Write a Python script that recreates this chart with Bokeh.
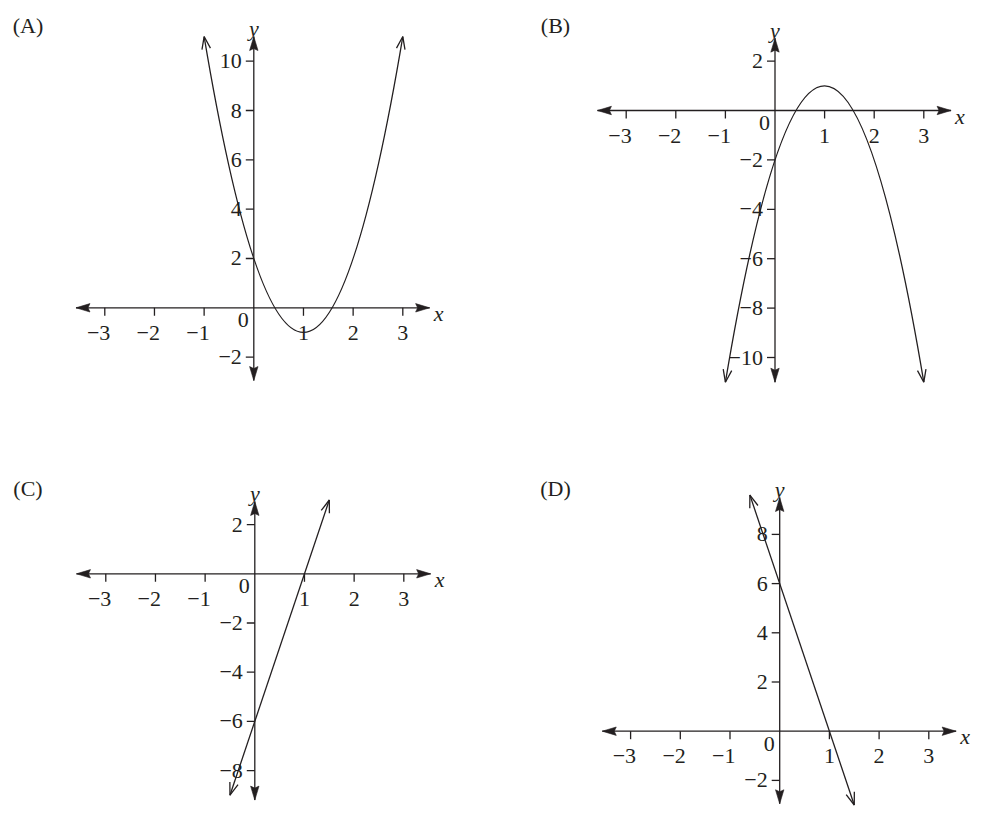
import math
from bokeh.plotting import figure
from bokeh.layouts import gridplot
from bokeh.models import Range1d, Label
from bokeh.core.properties import value
from bokeh.embed import file_html
from bokeh.resources import INLINE

# ---------------- data ----------------
panel_names = ["(A)", "(B)", "(C)", "(D)"]
x_ticks = [-3, -2, -1, 1, 2, 3]

a_y_ticks = [-2, 2, 4, 6, 8, 10]
b_y_ticks = [-10, -8, -6, -4, -2, 2]
c_y_ticks = [-8, -6, -4, -2, 2]
d_y_ticks = [-2, 2, 4, 6, 8]

# extent of the drawn axes (arrow tips)
a_x_axis, a_y_axis = [-3.58, 3.54], [-2.95, 11.0]
b_x_axis, b_y_axis = [-3.58, 3.55], [-11.0, 2.93]
c_x_axis, c_y_axis = [-3.59, 3.54], [-9.2, 2.94]
d_x_axis, d_y_axis = [-3.57, 3.55], [-2.95, 9.5]

# (A) parabola: end points and vertex
a_curve_x, a_curve_y, a_vertex = [-1, 3], [11, 11], [1, -1]
# (B) parabola: end points and vertex
b_curve_x, b_curve_y, b_vertex = [-1, 3], [-11, -11], [1, 1]
# (C) straight line end points
c_line_x, c_line_y = [-0.5, 1.5], [-9, 3]
# (D) straight line end points
d_line_x, d_line_y = [-0.6, 1.5], [9.6, -3]

# ---------------- style / layout ----------------
INK = "#231f20"
FONT = "Liberation Serif"
FS = "22px"
LW = 1.3
W = 490
H_TOP, H_BOT = 462, 350
PAGE_X, PAGE_Y = 0, 0   # where the grid lands in the screenshot


def fmt(v):
    return ("\u2212%d" % -v) if v < 0 else "%d" % v


def head_pts(tip, toward, sx, sy, length, half, notch):
    dx = (tip[0] - toward[0]) * sx
    dy = (tip[1] - toward[1]) * sy
    n = math.hypot(dx, dy)
    ux, uy = dx / n, dy / n
    px, py = -uy, ux
    offs = [(0, 0),
            (-ux * length + px * half, -uy * length + py * half),
            (-ux * (length - notch), -uy * (length - notch)),
            (-ux * length - px * half, -uy * length - py * half)]
    return ([tip[0] + o[0] / sx for o in offs], [tip[1] + o[1] / sy for o in offs])


def make_panel(name, box, origin, scale, x_axis, y_axis, y_ticks, curve, label_xy):
    bx, by, w, h = box
    ox, oy = origin
    sx, sy = scale
    p = figure(width=w, height=h,
               x_range=Range1d((bx - ox) / sx, (bx + w - ox) / sx),
               y_range=Range1d((oy - (by + h)) / sy, (oy - by) / sy),
               x_axis_type=None, y_axis_type=None,
               output_backend="svg", toolbar_location=None, min_border=0)
    p.grid.visible = False
    p.outline_line_color = None

    # axes
    p.line(x=x_axis, y=[0, 0], line_color=INK, line_width=LW)
    p.line(x=[0, 0], y=y_axis, line_color=INK, line_width=LW)
    hx, hy = [], []
    for tip, toward in [((x_axis[1], 0), (x_axis[0], 0)), ((x_axis[0], 0), (x_axis[1], 0)),
                        ((0, y_axis[1]), (0, y_axis[0])), ((0, y_axis[0]), (0, y_axis[1]))]:
        xs, ys = head_pts(tip, toward, sx, sy, 14, 4.2, 2.0)
        hx.append(xs)
        hy.append(ys)
    p.patches(xs=hx, ys=hy, fill_color=INK, line_color=INK, line_width=0.6)

    # tick marks
    p.segment(x0=x_ticks, y0=[0] * len(x_ticks), x1=x_ticks, y1=[-8 / sy] * len(x_ticks),
              line_color=INK, line_width=LW)
    p.segment(x0=[-8 / sx] * len(y_ticks), y0=y_ticks, x1=[0] * len(y_ticks), y1=y_ticks,
              line_color=INK, line_width=LW)

    tp = dict(text_font=value(FONT), text_font_size=value(FS), text_color=INK)
    neg = [t for t in x_ticks if t < 0]
    pos = [t for t in x_ticks if t > 0]
    p.text(x=neg, y=[0] * len(neg), text=[fmt(t) for t in neg], text_align="right",
           text_baseline="middle", x_offset=5.5, y_offset=25, **tp)
    p.text(x=pos, y=[0] * len(pos), text=[fmt(t) for t in pos], text_align="center",
           text_baseline="middle", y_offset=25, **tp)
    p.text(x=[0] * len(y_ticks), y=y_ticks, text=[fmt(t) for t in y_ticks], text_align="right",
           text_baseline="middle", x_offset=-12, **tp)
    p.text(x=[0], y=[0], text=["0"], text_align="center", text_baseline="middle",
           x_offset=-10.5, y_offset=12.5, **tp)
    p.text(x=[x_axis[1]], y=[0], text=["x"], text_align="left", text_baseline="alphabetic",
           x_offset=4, y_offset=5.5, text_font_style="italic", **tp)
    p.text(x=[0], y=[y_axis[1]], text=["y"], text_align="center", text_baseline="alphabetic",
           y_offset=-8, text_font_style="italic", **tp)

    # curve
    kind, cx_, cy_, extra = curve
    vx, vy = [], []
    if kind == "parabola":
        ctrl = (extra[0], 2 * extra[1] - (cy_[0] + cy_[1]) / 2.0)
        p.quadratic(x0=[cx_[0]], y0=[cy_[0]], x1=[cx_[1]], y1=[cy_[1]], cx=[ctrl[0]], cy=[ctrl[1]],
                    line_color=INK, line_width=LW)
        ends = [((cx_[0], cy_[0]), ctrl), ((cx_[1], cy_[1]), ctrl)]
    else:
        p.line(x=cx_, y=cy_, line_color=INK, line_width=LW)
        ends = [((cx_[0], cy_[0]), (cx_[1], cy_[1])), ((cx_[1], cy_[1]), (cx_[0], cy_[0]))]
    for tip, toward in ends:
        xs, ys = head_pts(tip, toward, sx, sy, 12.5, 4.3, 0)
        vx.append([xs[1], xs[0], xs[3]])
        vy.append([ys[1], ys[0], ys[3]])
    p.multi_line(xs=vx, ys=vy, line_color=INK, line_width=LW)

    p.add_layout(Label(x=label_xy[0], y=h - label_xy[1], x_units="screen", y_units="screen",
                       text=name, text_font=FONT, text_font_size=FS, text_color=INK,
                       text_align="center", text_baseline="middle"))
    return p


boxes = [(PAGE_X, PAGE_Y, W, H_TOP), (PAGE_X + W, PAGE_Y, W, H_TOP),
         (PAGE_X, PAGE_Y + H_TOP, W, H_BOT), (PAGE_X + W, PAGE_Y + H_TOP, W, H_BOT)]

pa = make_panel(panel_names[0], boxes[0], (253.3, 307.3), (49.67, 24.66),
                a_x_axis, a_y_axis, a_y_ticks, ("parabola", a_curve_x, a_curve_y, a_vertex), (27.5, 25))
pb = make_panel(panel_names[1], boxes[1], (774.5, 110.0), (49.6, 24.7),
                b_x_axis, b_y_axis, b_y_ticks, ("parabola", b_curve_x, b_curve_y, b_vertex), (555 - W, 25))
pc = make_panel(panel_names[2], boxes[2], (254.3, 573.3), (49.67, 24.6),
                c_x_axis, c_y_axis, c_y_ticks, ("line", c_line_x, c_line_y, None), (27.5, 488 - H_TOP))
pd = make_panel(panel_names[3], boxes[3], (779.2, 730.7), (49.7, 24.6),
                d_x_axis, d_y_axis, d_y_ticks, ("line", d_line_x, d_line_y, None), (555 - W, 488 - H_TOP))

grid = gridplot([[pa, pb], [pc, pd]], toolbar_location=None)

open("out.html", "w").write(file_html(grid, INLINE))
